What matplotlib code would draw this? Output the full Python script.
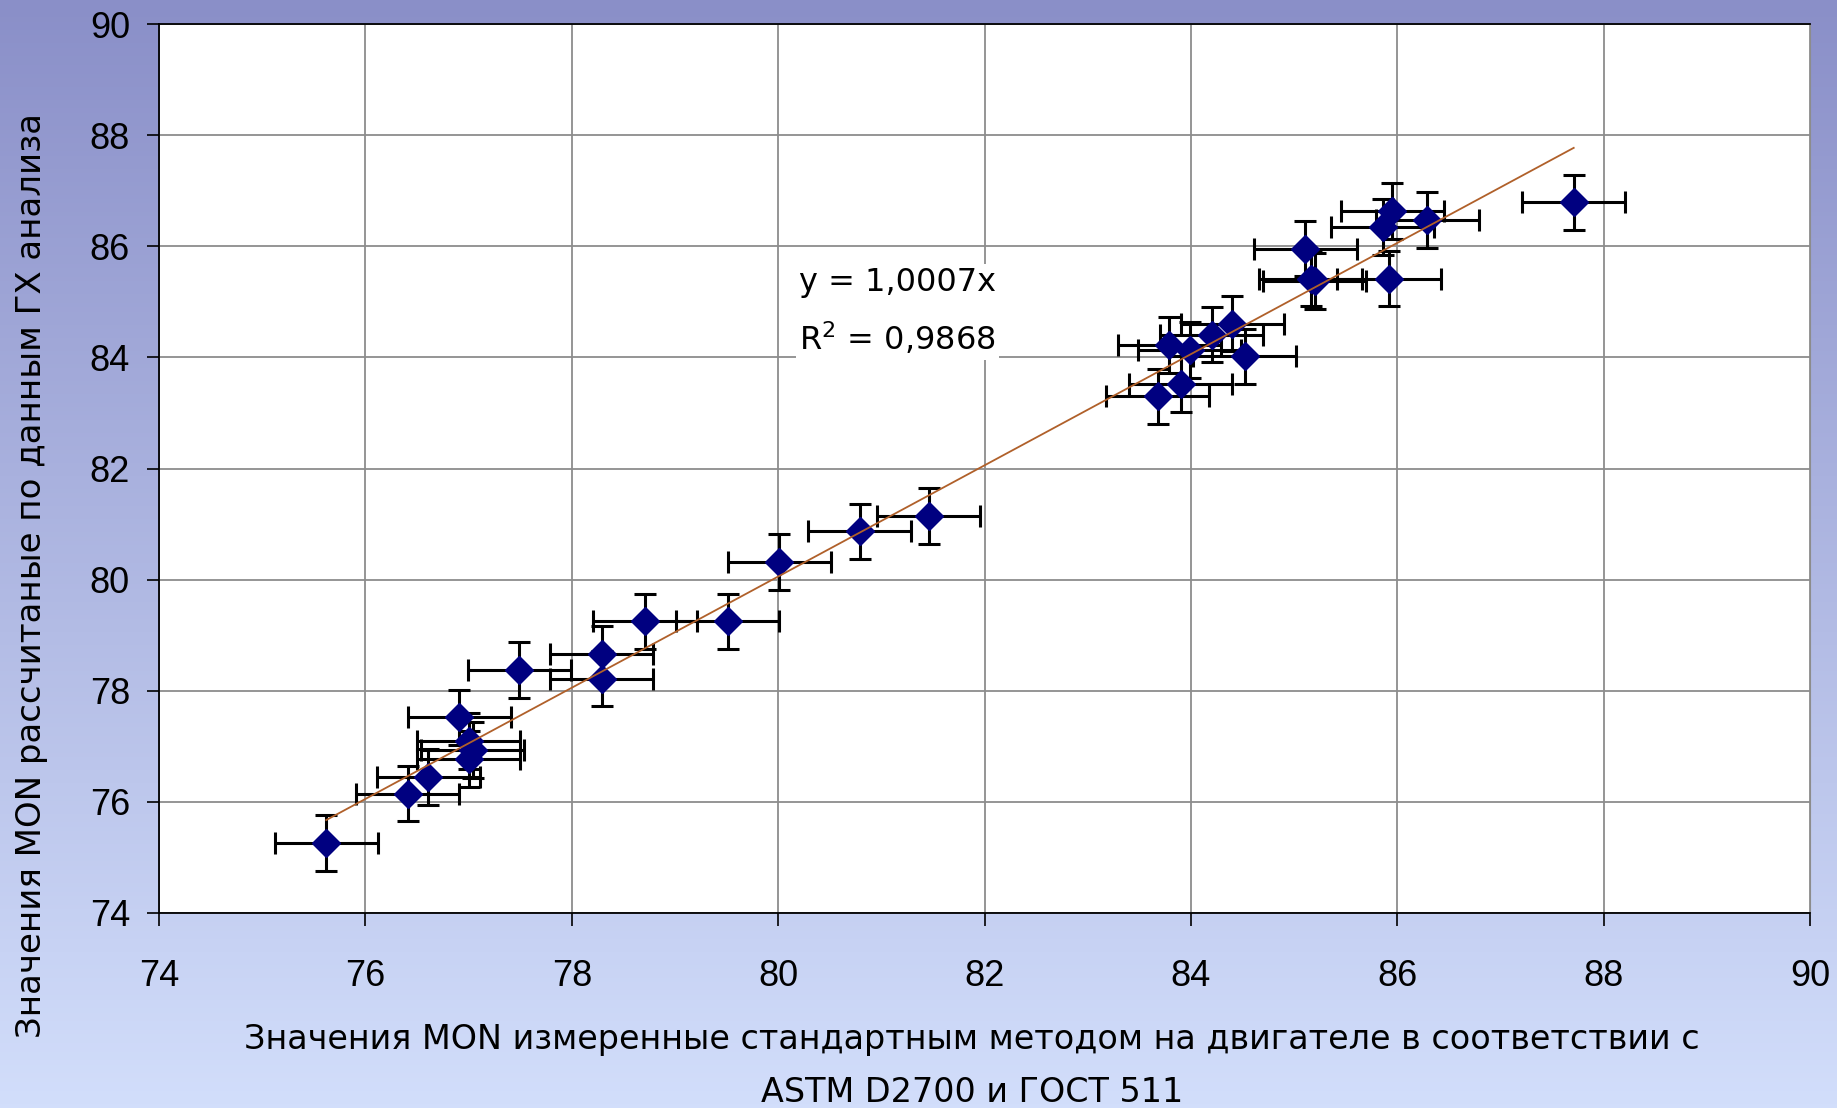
import numpy as np
import matplotlib.pyplot as plt

# MON measured on engine (x) vs MON calculated from GC data (y)
mon_engine = [75.62, 76.41, 76.61, 76.91, 77.00, 77.04, 77.00, 77.49, 78.29, 78.29,
              78.71, 79.51, 80.01, 80.79, 81.46, 83.68, 83.90, 83.79, 83.99, 84.20,
              84.40, 84.52, 85.11, 85.16, 85.20, 85.92, 85.86, 85.95, 86.29, 87.71]
mon_gc = [75.26, 76.15, 76.45, 77.52, 77.10, 76.93, 76.77, 78.37, 78.67, 78.22,
          79.25, 79.25, 80.32, 80.87, 81.15, 83.30, 83.52, 84.22, 84.13, 84.41,
          84.61, 84.02, 85.96, 85.42, 85.38, 85.42, 86.35, 86.63, 86.47, 86.79]
err_x = 0.5
err_y = 0.5
slope = 1.0007
r2 = 0.9868
ticks = [74, 76, 78, 80, 82, 84, 86, 88, 90]

plt.rcParams['font.family'] = ['Liberation Sans', 'DejaVu Sans']

fig = plt.figure(figsize=(18.37, 11.08), dpi=100)

# gradient background
bg = fig.add_axes([0, 0, 1, 1], zorder=-10)
top = np.array([138, 143, 200]) / 255
bot = np.array([210, 222, 251]) / 255
t = np.linspace(0, 1, 256)[:, None]
grad = top[None, :] * (1 - t) + bot[None, :] * t
bg.imshow(grad[:, None, :], aspect='auto', extent=[0, 1, 0, 1])
bg.axis('off')

ax = fig.add_axes([0.0866, 0.176, 0.8987, 0.8023])
ax.set_facecolor('white')

ax.errorbar(mon_engine, mon_gc, xerr=err_x, yerr=err_y, fmt='none',
            ecolor='black', elinewidth=2.2, capsize=8, capthick=2.2, zorder=3)
ax.plot(mon_engine, mon_gc, 'D', color='#000080', markersize=14, zorder=4)

xl = np.array([min(mon_engine), max(mon_engine)])
ax.plot(xl, slope * xl, color='#B0602A', lw=1.3, zorder=5)

ax.text(80.2, 84.82, 'y = 1,0007x\nR$^2$ = 0,9868', fontsize=23, linespacing=1.75,
        family='DejaVu Sans', va='center', ha='left', zorder=6,
        bbox=dict(facecolor='white', edgecolor='none', pad=2))

ax.set_xlim(74, 90)
ax.set_ylim(74, 90)
ax.set_xticks(ticks)
ax.set_yticks(ticks)
ax.grid(True, color='#8c8c8c', lw=1.3)
ax.set_axisbelow(True)
ax.tick_params(labelsize=26, length=9, width=1.2, color='black', direction='out')
ax.tick_params(axis='x', pad=24)
ax.tick_params(axis='y', pad=12)
for s in ['left', 'bottom', 'top']:
    ax.spines[s].set_color('black')
    ax.spines[s].set_linewidth(1.3)
ax.spines['right'].set_color('#8c8c8c')

fig.text(0.017, 1 - 575 / 1108, 'Значения MON рассчитаные по данным ГХ анализа',
         rotation=90, ha='center', va='center', fontsize=24.5, family='DejaVu Sans')
fig.text(0.529, 1 - 1040 / 1108,
         'Значения MON измеренные стандартным методом на двигателе в соответствии с',
         ha='center', va='center', fontsize=24, family='DejaVu Sans')
fig.text(0.529, 1 - 1092 / 1108, 'ASTM D2700 и ГОСТ 511',
         ha='center', va='center', fontsize=24, family='DejaVu Sans')

fig.savefig('out.png', dpi=100)
